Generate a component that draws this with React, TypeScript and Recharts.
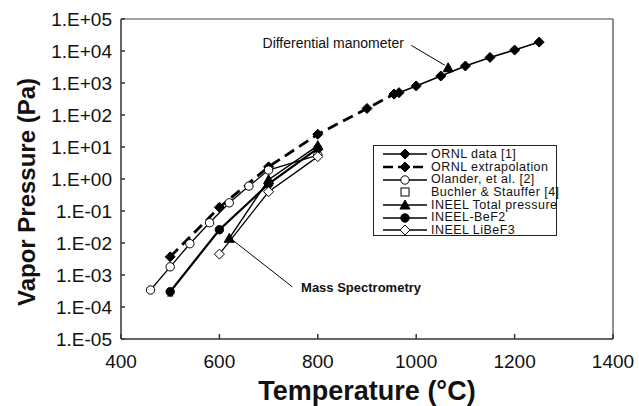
import { LineChart, Line, XAxis, YAxis, ReferenceLine, ReferenceDot, ErrorBar } from 'recharts';

const FONT = '"Liberation Sans", Arial, sans-serif';

const T_TICKS = [400, 600, 800, 1000, 1200, 1400];
const P_TICKS = [1e-5, 1e-4, 1e-3, 1e-2, 1e-1, 1, 1e1, 1e2, 1e3, 1e4, 1e5];

// ORNL data [1]
const ornlT = [955, 965, 1000, 1050, 1100, 1150, 1200, 1250];
const ornlP = [450, 500, 810, 1650, 3400, 6300, 10700, 19000];
// ORNL extrapolation
const extT = [500, 600, 700, 800, 900, 955];
const extP = [0.0037, 0.13, 2.4, 25, 160, 450];
// Olander, et al. [2]
const olaT = [460, 500, 540, 580, 620, 660, 700, 800];
const olaP = [0.00034, 0.0018, 0.0095, 0.043, 0.18, 0.6, 1.9, 5.6];
// INEEL Total pressure (null = gap between mass spec and manometer)
const totT = [620, 700, 800, 900, 1065];
const totP = [0.014, 0.95, 11, null, 3000];
// INEEL-BeF2
const bef2T = [500, 600, 700, 800];
const bef2P = [0.0003, 0.026, 0.7, 9];
const bef2Err = [[0.00008, 0.00005], [0, 0], [0, 0], [0, 0]];
// INEEL LiBeF3
const libT = [600, 700, 800];
const libP = [0.0045, 0.4, 5];

const rows = (t: number[], p: (number | null)[]) => t.map((x, i) => ({ t: x, p: p[i] }));

const fmtP = (v: number) => {
  const k = Math.round(Math.log10(v));
  return `1.E${k >= 0 ? '+' : '-'}${String(Math.abs(k)).padStart(2, '0')}`;
};

type Shape = 'diamond' | 'circle' | 'triangle' | 'square';

function Marker({ cx, cy, shape, filled }: { cx: number; cy: number; shape: Shape; filled: boolean }) {
  const fill = filled ? '#000' : '#fff';
  const s = { fill, stroke: '#000', strokeWidth: 1 };
  if (shape === 'diamond')
    return <polygon points={`${cx},${cy - 5} ${cx + 5},${cy} ${cx},${cy + 5} ${cx - 5},${cy}`} {...s} />;
  if (shape === 'triangle')
    return <polygon points={`${cx},${cy - 5} ${cx + 5},${cy + 4} ${cx - 5},${cy + 4}`} {...s} />;
  if (shape === 'square') return <rect x={cx - 4} y={cy - 4} width={8} height={8} {...s} />;
  return <circle cx={cx} cy={cy} r={4.2} {...s} />;
}

const dot = (shape: Shape, filled: boolean) => (props: any) => {
  const { cx, cy, key, value } = props;
  if (cx == null || cy == null || value == null) return <g key={key} />;
  return (
    <g key={key}>
      <Marker cx={cx} cy={cy} shape={shape} filled={filled} />
    </g>
  );
};

const LEGEND: { name: string; shape: Shape; filled: boolean; line: 'solid' | 'dash' | 'none' }[] = [
  { name: 'ORNL data [1]', shape: 'diamond', filled: true, line: 'solid' },
  { name: 'ORNL extrapolation', shape: 'diamond', filled: true, line: 'dash' },
  { name: 'Olander, et al. [2]', shape: 'circle', filled: false, line: 'solid' },
  { name: 'Buchler & Stauffer [4]', shape: 'square', filled: false, line: 'none' },
  { name: 'INEEL Total pressure', shape: 'triangle', filled: true, line: 'solid' },
  { name: 'INEEL-BeF2', shape: 'circle', filled: true, line: 'solid' },
  { name: 'INEEL LiBeF3', shape: 'diamond', filled: false, line: 'solid' },
];

function LegendBox() {
  return (
    <div
      style={{
        position: 'absolute',
        left: 373,
        top: 145,
        width: 184,
        height: 91,
        boxSizing: 'border-box',
        border: '1.5px solid #222',
        background: '#fff',
        padding: '2px 0 0 9px',
        fontFamily: FONT,
        fontSize: 12.5,
        letterSpacing: 0.45,
        lineHeight: '12.7px',
        color: '#111',
        whiteSpace: 'nowrap',
      }}
    >
      {LEGEND.map((e) => (
        <div key={e.name} style={{ display: 'flex', alignItems: 'center', height: 12.7 }}>
          <svg width={46} height={12} style={{ flex: 'none' }}>
            {e.line !== 'none' && (
              <line
                x1={0}
                x2={44}
                y1={6}
                y2={6}
                stroke="#000"
                strokeWidth={e.line === 'dash' ? 2.5 : 1.5}
                strokeDasharray={e.line === 'dash' ? '10 5' : undefined}
              />
            )}
            <Marker cx={22} cy={6} shape={e.shape} filled={e.filled} />
          </svg>
          <span style={{ marginLeft: 2, lineHeight: '12.7px' }}>{e.name}</span>
        </div>
      ))}
    </div>
  );
}

export default function App() {
  return (
    <div style={{ position: 'absolute', left: 0, top: 0, width: 639, height: 406, background: '#fff', fontFamily: FONT }}>
      <LineChart width={639} height={406} margin={{ top: 19, right: 26, bottom: 27, left: 21 }}>
        <XAxis
          type="number"
          dataKey="t"
          domain={[400, 1400]}
          ticks={T_TICKS}
          interval={0}
          allowDataOverflow
          height={40}
          tickSize={-5}
          tickMargin={21}
          stroke="#333"
          strokeWidth={1.5}
          tick={{ fill: '#111', fontSize: 19, fontFamily: FONT }}
        />
        <YAxis
          type="number"
          dataKey="p"
          scale="log"
          domain={[1e-5, 1e5]}
          ticks={P_TICKS}
          interval={0}
          allowDataOverflow
          width={100}
          tickSize={-4}
          tickMargin={13}
          tickFormatter={fmtP}
          stroke="#333"
          strokeWidth={1.5}
          tick={{ fill: '#111', fontSize: 19, fontFamily: FONT }}
        />
        {/* plot frame: top and right edges */}
        <ReferenceLine y={1e5} stroke="#444" strokeWidth={1.2} />
        <ReferenceLine x={1400} stroke="#444" strokeWidth={1.2} />

        <Line data={rows(extT, extP)} dataKey="p" stroke="#000" strokeWidth={2.8} strokeDasharray="11 6" dot={dot('diamond', true)} isAnimationActive={false} />
        <Line data={rows(ornlT, ornlP)} dataKey="p" stroke="#000" strokeWidth={1.6} dot={dot('diamond', true)} isAnimationActive={false} />
        <Line data={rows(olaT, olaP)} dataKey="p" stroke="#000" strokeWidth={1.3} dot={dot('circle', false)} isAnimationActive={false} />
        <Line data={rows(totT, totP)} dataKey="p" stroke="#000" strokeWidth={1.5} dot={dot('triangle', true)} isAnimationActive={false} />
        <Line data={rows(bef2T, bef2P).map((r, i) => ({ ...r, err: bef2Err[i] }))} dataKey="p" stroke="#000" strokeWidth={2.2} dot={dot('circle', true)} isAnimationActive={false}>
          <ErrorBar dataKey="err" direction="y" width={3} stroke="#000" strokeWidth={1} />
        </Line>
        <Line data={rows(libT, libP)} dataKey="p" stroke="#000" strokeWidth={1.3} dot={dot('diamond', false)} isAnimationActive={false} />

        <ReferenceLine segment={[{ x: 990, y: 1.5e4 }, { x: 1058, y: 3.6e3 }]} stroke="#000" strokeWidth={1} />
        <ReferenceDot
          x={975}
          y={1.8e4}
          r={0}
          fill="none"
          stroke="none"
          label={{ value: 'Differential manometer', position: 'left', offset: 0, fill: '#111', fontSize: 14, fontFamily: FONT }}
        />
        <ReferenceLine segment={[{ x: 621, y: 0.0145 }, { x: 748, y: 4.3e-4 }]} stroke="#000" strokeWidth={1} />
        <ReferenceDot
          x={766}
          y={4.2e-4}
          r={0}
          fill="none"
          stroke="none"
          label={{ value: 'Mass Spectrometry', position: 'right', offset: 0, fill: '#111', fontSize: 13, fontWeight: 'bold', fontFamily: FONT }}
        />
      </LineChart>
      <LegendBox />
      <div
        style={{
          position: 'absolute',
          left: 27,
          top: 192,
          transform: 'translate(-50%, -50%) rotate(-90deg)',
          fontSize: 24,
          lineHeight: '24px',
          fontWeight: 'bold',
          whiteSpace: 'nowrap',
          color: '#111',
        }}
      >
        Vapor Pressure (Pa)
      </div>
      <div
        style={{
          position: 'absolute',
          left: 367,
          top: 391,
          transform: 'translate(-50%, -50%)',
          fontSize: 27,
          lineHeight: '27px',
          fontWeight: 'bold',
          whiteSpace: 'nowrap',
          color: '#111',
        }}
      >
        Temperature (°C)
      </div>
    </div>
  );
}
